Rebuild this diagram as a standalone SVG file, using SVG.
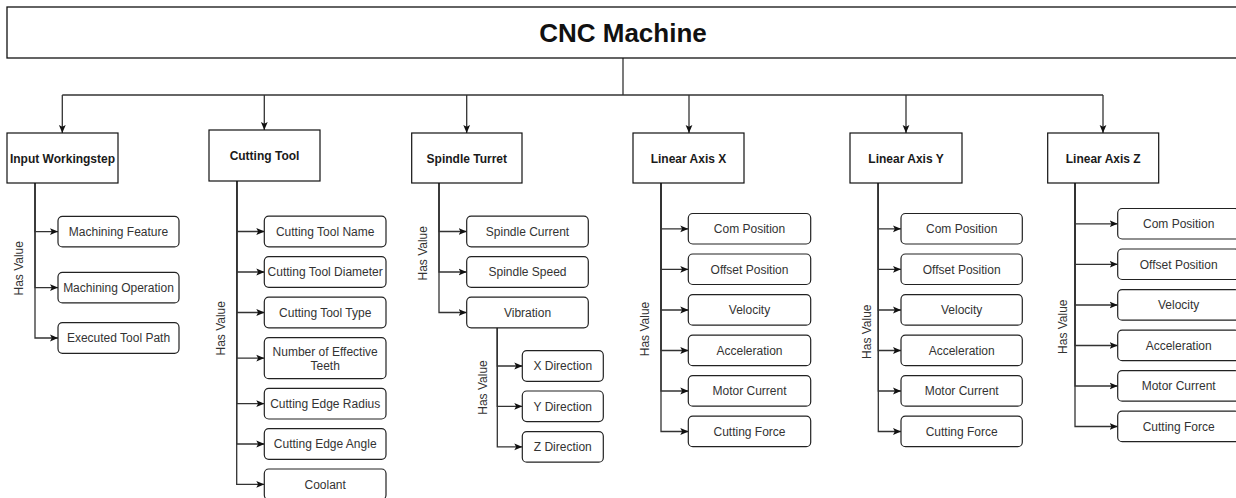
<svg xmlns="http://www.w3.org/2000/svg" width="1236" height="498" viewBox="0 0 1236 498">
  <style>
    .bg { fill: #ffffff; }
    .root { fill: #ffffff; stroke: #111111; stroke-width: 1.3; }
    .main { fill: #ffffff; stroke: #111111; stroke-width: 1.2; }
    .leaf { fill: #ffffff; stroke: #222222; stroke-width: 1.2; }
    .title { font-family: "Liberation Sans", Arial, sans-serif; font-size: 26px; font-weight: bold; fill: #111111; text-anchor: middle; }
    .mlabel { font-family: "Liberation Sans", Arial, sans-serif; font-size: 12px; font-weight: bold; fill: #1a1a1a; text-anchor: middle; }
    .llabel { font-family: "Liberation Sans", Arial, sans-serif; font-size: 12px; fill: #333333; text-anchor: middle; }
    .rel { font-family: "Liberation Sans", Arial, sans-serif; font-size: 12px; fill: #333333; text-anchor: middle; }
    .edge { fill: none; stroke: #333333; stroke-width: 1.3; }
    .arrow { marker-end: url(#head); }
  </style>
  <defs>
    <marker id="head" viewBox="0 0 8 8" refX="8" refY="4" markerWidth="8" markerHeight="8" markerUnits="userSpaceOnUse" orient="auto">
      <path d="M0,0.6 L8,4 L0,7.4 L1.8,4 Z" fill="#111111"/>
    </marker>
  </defs>

  <rect class="bg" x="0" y="0" width="1236" height="498"/>

  <!-- connectors -->
  <g id="connectors">
    <!-- root bus -->
    <path class="edge" d="M623,58 V95"/>
    <path class="edge" d="M62.3,95 H1103"/>
    <path class="edge arrow" d="M62.3,95 V133"/>
    <path class="edge arrow" d="M264.3,95 V130"/>
    <path class="edge arrow" d="M466.7,95 V133"/>
    <path class="edge arrow" d="M689,95 V133"/>
    <path class="edge arrow" d="M906,95 V133"/>
    <path class="edge arrow" d="M1103,95 V133"/>

    <!-- Input Workingstep -->
    <path class="edge arrow" d="M35,183 V231.6 H58"/>
    <path class="edge arrow" d="M35,183 V287.6 H58"/>
    <path class="edge arrow" d="M35,183 V338 H58"/>

    <!-- Cutting Tool -->
    <path class="edge arrow" d="M236.7,181 V231.5 H264.3"/>
    <path class="edge arrow" d="M236.7,181 V272 H264.3"/>
    <path class="edge arrow" d="M236.7,181 V312.5 H264.3"/>
    <path class="edge arrow" d="M236.7,181 V358.2 H264.3"/>
    <path class="edge arrow" d="M236.7,181 V403.7 H264.3"/>
    <path class="edge arrow" d="M236.7,181 V444 H264.3"/>
    <path class="edge arrow" d="M236.7,181 V484.3 H264.3"/>

    <!-- Spindle Turret -->
    <path class="edge arrow" d="M439,183 V231.5 H466.7"/>
    <path class="edge arrow" d="M439,183 V272 H466.7"/>
    <path class="edge arrow" d="M439,183 V312.5 H466.7"/>

    <!-- Vibration -->
    <path class="edge arrow" d="M497.3,327.8 V366 H522.3"/>
    <path class="edge arrow" d="M497.3,327.8 V406.3 H522.3"/>
    <path class="edge arrow" d="M497.3,327.8 V446.9 H522.3"/>

    <!-- Linear Axis X -->
    <path class="edge arrow" d="M661,183 V228.8 H688.3"/>
    <path class="edge arrow" d="M661,183 V269.3 H688.3"/>
    <path class="edge arrow" d="M661,183 V310 H688.3"/>
    <path class="edge arrow" d="M661,183 V350.5 H688.3"/>
    <path class="edge arrow" d="M661,183 V391 H688.3"/>
    <path class="edge arrow" d="M661,183 V431.5 H688.3"/>

    <!-- Linear Axis Y -->
    <path class="edge arrow" d="M878.3,183 V228.8 H901"/>
    <path class="edge arrow" d="M878.3,183 V269.3 H901"/>
    <path class="edge arrow" d="M878.3,183 V310 H901"/>
    <path class="edge arrow" d="M878.3,183 V350.5 H901"/>
    <path class="edge arrow" d="M878.3,183 V391 H901"/>
    <path class="edge arrow" d="M878.3,183 V431.5 H901"/>

    <!-- Linear Axis Z -->
    <path class="edge arrow" d="M1075,183 V223.8 H1117.7"/>
    <path class="edge arrow" d="M1075,183 V264.3 H1117.7"/>
    <path class="edge arrow" d="M1075,183 V305 H1117.7"/>
    <path class="edge arrow" d="M1075,183 V345.5 H1117.7"/>
    <path class="edge arrow" d="M1075,183 V386 H1117.7"/>
    <path class="edge arrow" d="M1075,183 V426.5 H1117.7"/>

    <!-- relation labels -->
    <text class="rel" transform="translate(23,268.3) rotate(-90)">Has Value</text>
    <text class="rel" transform="translate(225,328.3) rotate(-90)">Has Value</text>
    <text class="rel" transform="translate(426.6,253.3) rotate(-90)">Has Value</text>
    <text class="rel" transform="translate(487.2,387.5) rotate(-90)">Has Value</text>
    <text class="rel" transform="translate(649.2,329) rotate(-90)">Has Value</text>
    <text class="rel" transform="translate(871.2,331.7) rotate(-90)">Has Value</text>
    <text class="rel" transform="translate(1067,326.7) rotate(-90)">Has Value</text>
  </g>

  <!-- root -->
  <g id="cnc-machine">
    <rect class="root" x="7" y="7" width="1240" height="51"/>
    <text class="title" x="623" y="42">CNC Machine</text>
  </g>

  <!-- Input Workingstep -->
  <g id="input-workingstep">
    <rect class="main" x="7" y="133" width="111" height="50"/>
    <text class="mlabel" x="62.5" y="162.5">Input Workingstep</text>
  </g>
  <g id="machining-feature">
    <rect class="leaf" x="58" y="216.3" width="121" height="30.6" rx="4.5"/>
    <text class="llabel" x="118.5" y="236">Machining Feature</text>
  </g>
  <g id="machining-operation">
    <rect class="leaf" x="58" y="272.3" width="121" height="30.6" rx="4.5"/>
    <text class="llabel" x="118.5" y="292">Machining Operation</text>
  </g>
  <g id="executed-tool-path">
    <rect class="leaf" x="58" y="322.7" width="121" height="30.6" rx="4.5"/>
    <text class="llabel" x="118.5" y="342.4">Executed Tool Path</text>
  </g>

  <!-- Cutting Tool -->
  <g id="cutting-tool">
    <rect class="main" x="209" y="130" width="111" height="51"/>
    <text class="mlabel" x="264.5" y="160">Cutting Tool</text>
  </g>
  <g id="cutting-tool-name">
    <rect class="leaf" x="264.3" y="216.2" width="121.7" height="30.6" rx="4.5"/>
    <text class="llabel" x="325.2" y="235.9">Cutting Tool Name</text>
  </g>
  <g id="cutting-tool-diameter">
    <rect class="leaf" x="264.3" y="256.7" width="121.7" height="30.6" rx="4.5"/>
    <text class="llabel" x="325.2" y="276.4">Cutting Tool Diameter</text>
  </g>
  <g id="cutting-tool-type">
    <rect class="leaf" x="264.3" y="297.2" width="121.7" height="30.6" rx="4.5"/>
    <text class="llabel" x="325.2" y="316.9">Cutting Tool Type</text>
  </g>
  <g id="number-of-effective-teeth">
    <rect class="leaf" x="264.3" y="337.7" width="121.7" height="41" rx="4.5"/>
    <text class="llabel" x="325.2" y="356">Number of Effective</text>
    <text class="llabel" x="325.2" y="370">Teeth</text>
  </g>
  <g id="cutting-edge-radius">
    <rect class="leaf" x="264.3" y="388.4" width="121.7" height="30.6" rx="4.5"/>
    <text class="llabel" x="325.2" y="408.1">Cutting Edge Radius</text>
  </g>
  <g id="cutting-edge-angle">
    <rect class="leaf" x="264.3" y="428.7" width="121.7" height="30.6" rx="4.5"/>
    <text class="llabel" x="325.2" y="448.4">Cutting Edge Angle</text>
  </g>
  <g id="coolant">
    <rect class="leaf" x="264.3" y="469" width="121.7" height="30.6" rx="4.5"/>
    <text class="llabel" x="325.2" y="488.7">Coolant</text>
  </g>

  <!-- Spindle Turret -->
  <g id="spindle-turret">
    <rect class="main" x="411.7" y="133" width="110.3" height="50"/>
    <text class="mlabel" x="466.8" y="162.5">Spindle Turret</text>
  </g>
  <g id="spindle-current">
    <rect class="leaf" x="466.7" y="216.2" width="121.6" height="30.6" rx="4.5"/>
    <text class="llabel" x="527.5" y="235.9">Spindle Current</text>
  </g>
  <g id="spindle-speed">
    <rect class="leaf" x="466.7" y="256.7" width="121.6" height="30.6" rx="4.5"/>
    <text class="llabel" x="527.5" y="276.4">Spindle Speed</text>
  </g>
  <g id="vibration">
    <rect class="leaf" x="466.7" y="297.2" width="121.6" height="30.6" rx="4.5"/>
    <text class="llabel" x="527.5" y="316.9">Vibration</text>
  </g>
  <g id="x-direction">
    <rect class="leaf" x="522.3" y="350.7" width="81" height="30.6" rx="4.5"/>
    <text class="llabel" x="562.8" y="370.4">X Direction</text>
  </g>
  <g id="y-direction">
    <rect class="leaf" x="522.3" y="391" width="81" height="30.6" rx="4.5"/>
    <text class="llabel" x="562.8" y="410.7">Y Direction</text>
  </g>
  <g id="z-direction">
    <rect class="leaf" x="522.3" y="431.6" width="81" height="30.6" rx="4.5"/>
    <text class="llabel" x="562.8" y="451.3">Z Direction</text>
  </g>

  <!-- Linear Axis X -->
  <g id="linear-axis-x">
    <rect class="main" x="633" y="133" width="111" height="50"/>
    <text class="mlabel" x="688.5" y="162.5">Linear Axis X</text>
  </g>
  <g id="x-com-position">
    <rect class="leaf" x="688.3" y="213.5" width="122.4" height="30.5" rx="4.5"/>
    <text class="llabel" x="749.5" y="233.1">Com Position</text>
  </g>
  <g id="x-offset-position">
    <rect class="leaf" x="688.3" y="254" width="122.4" height="30.5" rx="4.5"/>
    <text class="llabel" x="749.5" y="273.6">Offset Position</text>
  </g>
  <g id="x-velocity">
    <rect class="leaf" x="688.3" y="294.7" width="122.4" height="30.5" rx="4.5"/>
    <text class="llabel" x="749.5" y="314.3">Velocity</text>
  </g>
  <g id="x-acceleration">
    <rect class="leaf" x="688.3" y="335.2" width="122.4" height="30.5" rx="4.5"/>
    <text class="llabel" x="749.5" y="354.8">Acceleration</text>
  </g>
  <g id="x-motor-current">
    <rect class="leaf" x="688.3" y="375.7" width="122.4" height="30.5" rx="4.5"/>
    <text class="llabel" x="749.5" y="395.3">Motor Current</text>
  </g>
  <g id="x-cutting-force">
    <rect class="leaf" x="688.3" y="416.2" width="122.4" height="30.5" rx="4.5"/>
    <text class="llabel" x="749.5" y="435.8">Cutting Force</text>
  </g>

  <!-- Linear Axis Y -->
  <g id="linear-axis-y">
    <rect class="main" x="850" y="133" width="112" height="50"/>
    <text class="mlabel" x="906" y="162.5">Linear Axis Y</text>
  </g>
  <g id="y-com-position">
    <rect class="leaf" x="901" y="213.5" width="121.3" height="30.5" rx="4.5"/>
    <text class="llabel" x="961.7" y="233.1">Com Position</text>
  </g>
  <g id="y-offset-position">
    <rect class="leaf" x="901" y="254" width="121.3" height="30.5" rx="4.5"/>
    <text class="llabel" x="961.7" y="273.6">Offset Position</text>
  </g>
  <g id="y-velocity">
    <rect class="leaf" x="901" y="294.7" width="121.3" height="30.5" rx="4.5"/>
    <text class="llabel" x="961.7" y="314.3">Velocity</text>
  </g>
  <g id="y-acceleration">
    <rect class="leaf" x="901" y="335.2" width="121.3" height="30.5" rx="4.5"/>
    <text class="llabel" x="961.7" y="354.8">Acceleration</text>
  </g>
  <g id="y-motor-current">
    <rect class="leaf" x="901" y="375.7" width="121.3" height="30.5" rx="4.5"/>
    <text class="llabel" x="961.7" y="395.3">Motor Current</text>
  </g>
  <g id="y-cutting-force">
    <rect class="leaf" x="901" y="416.2" width="121.3" height="30.5" rx="4.5"/>
    <text class="llabel" x="961.7" y="435.8">Cutting Force</text>
  </g>

  <!-- Linear Axis Z -->
  <g id="linear-axis-z">
    <rect class="main" x="1047.7" y="133" width="111" height="50"/>
    <text class="mlabel" x="1103.2" y="162.5">Linear Axis Z</text>
  </g>
  <g id="z-com-position">
    <rect class="leaf" x="1117.7" y="208.5" width="122" height="30.5" rx="4.5"/>
    <text class="llabel" x="1178.7" y="228.1">Com Position</text>
  </g>
  <g id="z-offset-position">
    <rect class="leaf" x="1117.7" y="249" width="122" height="30.5" rx="4.5"/>
    <text class="llabel" x="1178.7" y="268.6">Offset Position</text>
  </g>
  <g id="z-velocity">
    <rect class="leaf" x="1117.7" y="289.7" width="122" height="30.5" rx="4.5"/>
    <text class="llabel" x="1178.7" y="309.3">Velocity</text>
  </g>
  <g id="z-acceleration">
    <rect class="leaf" x="1117.7" y="330.2" width="122" height="30.5" rx="4.5"/>
    <text class="llabel" x="1178.7" y="349.8">Acceleration</text>
  </g>
  <g id="z-motor-current">
    <rect class="leaf" x="1117.7" y="370.7" width="122" height="30.5" rx="4.5"/>
    <text class="llabel" x="1178.7" y="390.3">Motor Current</text>
  </g>
  <g id="z-cutting-force">
    <rect class="leaf" x="1117.7" y="411.2" width="122" height="30.5" rx="4.5"/>
    <text class="llabel" x="1178.7" y="430.8">Cutting Force</text>
  </g>
</svg>
